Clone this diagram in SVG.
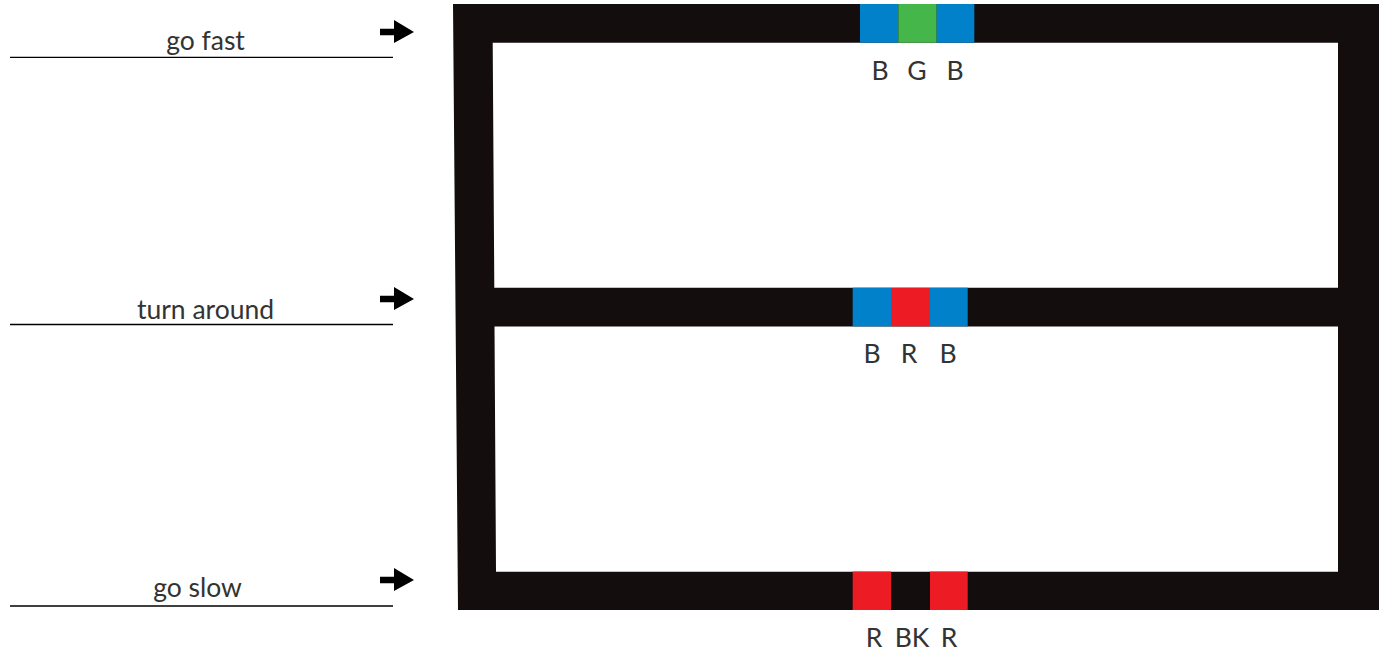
<svg xmlns="http://www.w3.org/2000/svg" width="1379" height="653" viewBox="0 0 1379 653">
<style>
.lbl{font-family:Lato,"Liberation Sans",sans-serif;font-size:26.5px;fill:#333;text-anchor:middle}
.rule{stroke:#000;stroke-width:1.3}
.arr{fill:#000}
.blue{fill:#0081c9}
.green{fill:#45b649}
.red{fill:#ed1c24}
</style>
<defs>
<path id="arrow" d="M0,-3.3 H14 V-12 L34,0 L14,11 V3.3 H0 Z"/>
</defs>
<g id="frame">
<path fill="#130d0e" fill-rule="evenodd" d="M453,4 H1379 V610 H458 Z M492.7,42.7 H1338 V287.7 H494.3 Z M494.5,326.5 H1338 V571.7 H496 Z"/>
</g>
<g id="top-marker">
<rect class="blue" x="860" y="4" width="38.3" height="38.7"/>
<rect class="green" x="898.3" y="4" width="38.4" height="38.7"/>
<rect class="blue" x="936.7" y="4" width="37.6" height="38.7"/>
<text class="lbl" x="880" y="79.5">B</text>
<text class="lbl" x="917" y="79.5">G</text>
<text class="lbl" x="955" y="79.5">B</text>
</g>
<g id="middle-marker">
<rect class="blue" x="852.7" y="287.7" width="38.3" height="38.6"/>
<rect class="red" x="891" y="287.7" width="39" height="38.6"/>
<rect class="blue" x="930" y="287.7" width="37.7" height="38.6"/>
<text class="lbl" x="872" y="362.5">B</text>
<text class="lbl" x="909" y="362.5">R</text>
<text class="lbl" x="948" y="362.5">B</text>
</g>
<g id="bottom-marker">
<rect class="red" x="852.7" y="571.5" width="38.3" height="38.5"/>
<rect class="red" x="930" y="571.5" width="37.7" height="38.5"/>
<text class="lbl" x="874" y="646.5">R</text>
<text class="lbl" x="912" y="646.5">BK</text>
<text class="lbl" x="949" y="646.5">R</text>
</g>
<g id="go-fast">
<text class="lbl" x="205.5" y="49.5">go fast</text>
<line class="rule" x1="10" y1="57.3" x2="393" y2="57.3"/>
</g>
<g id="turn-around">
<text class="lbl" x="205.5" y="319">turn around</text>
<line class="rule" x1="10" y1="324.5" x2="393" y2="324.5"/>
</g>
<g id="go-slow">
<text class="lbl" x="197.5" y="597">go slow</text>
<line class="rule" x1="10" y1="606" x2="393" y2="606"/>
</g>
<g id="connectors">
<use href="#arrow" class="arr" x="380" y="32"/>
<use href="#arrow" class="arr" x="380" y="299"/>
<use href="#arrow" class="arr" x="380" y="580"/>
</g>
</svg>
